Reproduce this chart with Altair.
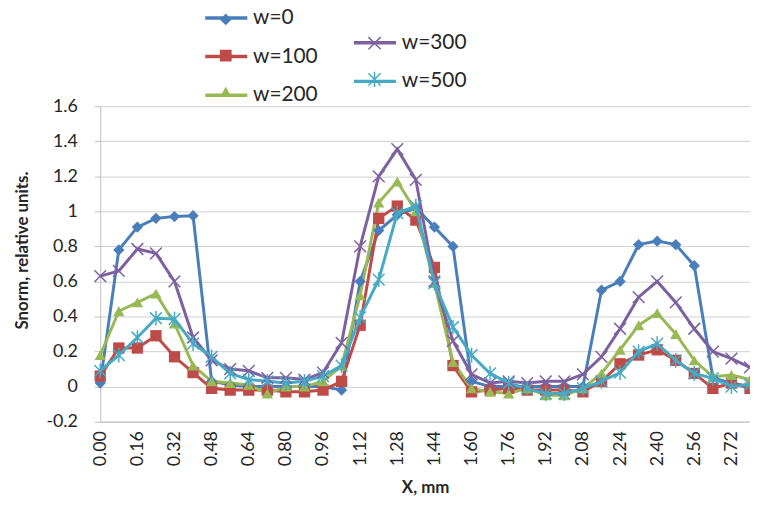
import altair as alt
import pandas as pd

x_mm = [0.00, 0.08, 0.16, 0.24, 0.32, 0.40, 0.48, 0.56, 0.64, 0.72, 0.80, 0.88,
        0.96, 1.04, 1.12, 1.20, 1.28, 1.36, 1.44, 1.52, 1.60, 1.68, 1.76, 1.84,
        1.92, 2.00, 2.08, 2.16, 2.24, 2.32, 2.40, 2.48, 2.56, 2.64, 2.72, 2.80]

w0 = [0.02, 0.78, 0.91, 0.96, 0.97, 0.975, 0.03, 0.01, 0.00, 0.00, 0.00, 0.00,
      0.00, -0.02, 0.60, 0.89, 0.98, 1.02, 0.91, 0.80, 0.03, 0.00, 0.00, 0.00,
      0.00, 0.00, 0.00, 0.55, 0.60, 0.81, 0.83, 0.81, 0.69, 0.05, 0.02, 0.00]
w100 = [0.06, 0.22, 0.22, 0.29, 0.17, 0.08, -0.01, -0.02, -0.02, -0.02, -0.03, -0.03,
        -0.02, 0.03, 0.35, 0.96, 1.03, 0.95, 0.68, 0.12, -0.03, -0.02, -0.01, -0.02,
        -0.02, -0.02, -0.03, 0.03, 0.13, 0.18, 0.21, 0.15, 0.075, -0.01, 0.02, -0.01]
w200 = [0.18, 0.43, 0.48, 0.53, 0.36, 0.12, 0.03, 0.02, 0.01, -0.04, 0.00, 0.00,
        0.03, 0.12, 0.52, 1.05, 1.17, 1.00, 0.59, 0.14, -0.01, -0.03, -0.04, -0.01,
        -0.05, -0.05, -0.01, 0.075, 0.21, 0.35, 0.42, 0.30, 0.15, 0.056, 0.066, 0.04]
w300 = [0.63, 0.66, 0.785, 0.76, 0.60, 0.28, 0.15, 0.10, 0.09, 0.05, 0.05, 0.04,
        0.08, 0.25, 0.80, 1.20, 1.355, 1.18, 0.60, 0.26, 0.07, 0.02, 0.03, 0.02,
        0.03, 0.03, 0.07, 0.17, 0.33, 0.51, 0.60, 0.48, 0.33, 0.20, 0.16, 0.11]
w500 = [0.09, 0.18, 0.28, 0.39, 0.385, 0.245, 0.17, 0.075, 0.04, 0.03, 0.02, 0.03,
        0.06, 0.12, 0.395, 0.61, 0.99, 1.03, 0.59, 0.34, 0.18, 0.075, 0.02, -0.01,
        -0.04, -0.04, -0.01, 0.03, 0.08, 0.20, 0.245, 0.15, 0.075, 0.047, 0.00, 0.01]

series_names = ["w=0", "w=100", "w=200", "w=300", "w=500"]
series_values = [w0, w100, w200, w300, w500]
series_colors = ["#4A7EBB", "#BE4B48", "#98B954", "#7D60A0", "#46AAC5"]

x_ticks = [0.00, 0.16, 0.32, 0.48, 0.64, 0.80, 0.96, 1.12, 1.28, 1.44, 1.60,
           1.76, 1.92, 2.08, 2.24, 2.40, 2.56, 2.72]
y_ticks = [-0.2, 0.0, 0.2, 0.4, 0.6, 0.8, 1.0, 1.2, 1.4, 1.6]

rows = []
for name, vals in zip(series_names, series_values):
    for xv, yv in zip(x_mm, vals):
        rows.append({"x": xv, "value": yv, "series": name})
df = pd.DataFrame(rows)

g1 = series_names[:3]
g2 = series_names[3:]
c1 = series_colors[:3]
c2 = series_colors[3:]

FONT = "Lato"
TXT = "#262626"

x_enc = alt.X(
    "x:Q",
    scale=alt.Scale(domain=[0, 2.8], nice=False, zero=False),
    axis=alt.Axis(
        values=x_ticks, format=".2f", labelAngle=270, labelFontSize=18,
        labelFont=FONT, labelColor=TXT, ticks=False, labelPadding=9,
        grid=False, domainColor="#BFBFBF", title="X, mm", titleFont=FONT,
        titleFontSize=17, titleFontWeight="bold", titleColor=TXT,
        titleY=66, titleBaseline="middle", labelFlush=False, labelOverlap=False,
    ),
)
y_enc = alt.Y(
    "value:Q",
    scale=alt.Scale(domain=[-0.2, 1.6], nice=False, zero=False),
    axis=alt.Axis(
        values=y_ticks, labelExpr="replace(format(datum.value, '.1~f'), '\u2212', '-')",
        labelFontSize=18, labelFont=FONT, labelColor=TXT, tickSize=6,
        tickColor="#BFBFBF", labelPadding=17, grid=True, gridColor="#CFCFCF",
        domainColor="#BFBFBF", title="Snorm, relative units.", titleFont=FONT,
        titleFontSize=17, titleFontWeight="bold", titleColor=TXT,
        titleX=-78, titleY=145, titleAngle=270, titleAlign="center",
        titleBaseline="middle", labelFlush=False,
    ),
)

base = alt.Chart(df).encode(x=x_enc, y=y_enc)

def line_legend(lx, ly):
    return alt.Legend(
        orient="none", legendX=lx, legendY=ly, title=None, padding=0,
        symbolType="stroke", symbolSize=1800, symbolStrokeWidth=3.5,
        labelFont=FONT, labelFontSize=21, labelColor=TXT, labelOffset=4,
        rowPadding=6,
    )

def point_legend(lx, ly, sw, size):
    return alt.Legend(
        orient="none", legendX=lx, legendY=ly, title=None, padding=0,
        symbolSize=size, symbolStrokeWidth=sw,
        labelFont=FONT, labelFontSize=21, labelOpacity=0, labelOffset=3,
        rowPadding=14.5,
    )

lines1 = base.mark_line(strokeWidth=3).encode(
    color=alt.Color("series:N", scale=alt.Scale(domain=g1, range=c1),
                    legend=line_legend(104, -112)),
).transform_filter(alt.FieldOneOfPredicate(field="series", oneOf=g1))

pleg1 = point_legend(116, -98, 1, 140)
points1 = base.mark_point(filled=True, size=130, opacity=1).encode(
    color=alt.Color("series:N", scale=alt.Scale(domain=g1, range=c1), legend=pleg1),
    shape=alt.Shape("series:N", scale=alt.Scale(domain=g1, range=["diamond", "square", "triangle-up"]),
                    legend=pleg1),
).transform_filter(alt.FieldOneOfPredicate(field="series", oneOf=g1))

lines2 = base.mark_line(strokeWidth=3).encode(
    color=alt.Color("series:N", scale=alt.Scale(domain=g2, range=c2),
                    legend=line_legend(254, -87)),
).transform_filter(alt.FieldOneOfPredicate(field="series", oneOf=g2))

xshape = "M-1,-1L1,1M-1,1L1,-1"
astshape = "M-1,-1L1,1M-1,1L1,-1M0,-1.25L0,1.25"
pleg2 = point_legend(266, -74, 1.5, 150)
points2 = base.mark_point(filled=False, size=140, opacity=1, strokeWidth=1.5).encode(
    color=alt.Color("series:N", scale=alt.Scale(domain=g2, range=c2), legend=pleg2),
    shape=alt.Shape("series:N", scale=alt.Scale(domain=g2, range=[xshape, astshape]),
                    legend=pleg2),
).transform_filter(alt.FieldOneOfPredicate(field="series", oneOf=g2))

chart = alt.layer(lines1, points1, lines2, points2).resolve_scale(
    color="independent", shape="independent"
).properties(
    width=655, height=318,
    autosize=alt.AutoSizeParams(type="none"),
    padding={"left": 93, "top": 97, "right": 0, "bottom": 75},
).configure_view(stroke=None)

chart.save("out.html", embed_options={"renderer": "svg", "actions": False})
